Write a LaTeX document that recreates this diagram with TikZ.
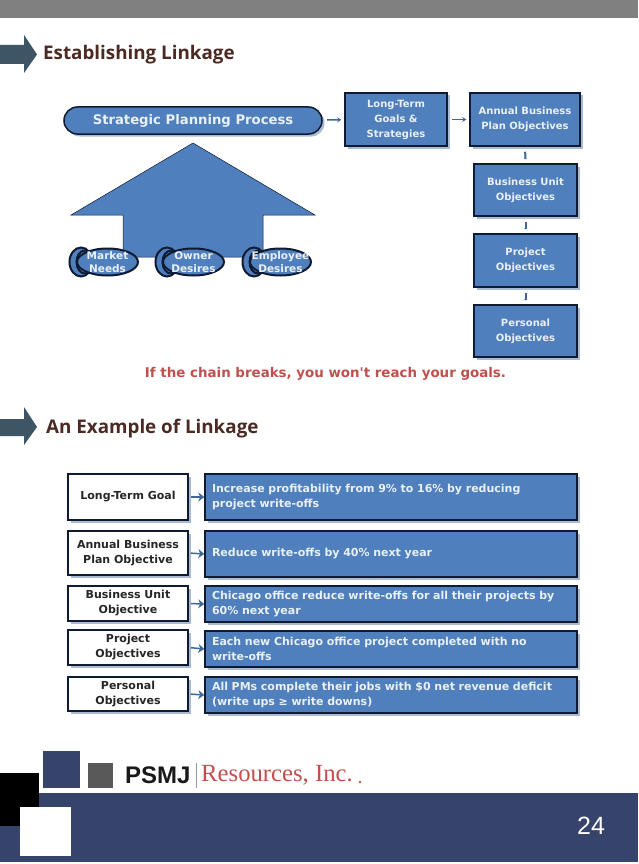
\documentclass[tikz,border=0pt]{standalone}
\usepackage{xcolor}
\usepackage{fontspec}
\usetikzlibrary{arrows.meta,shapes.geometric,shadows}
\newfontfamily\boxfont{DejaVu Sans}
\newfontfamily\titlefont{Open Sans}
\newfontfamily\logofont{Liberation Sans}
\newfontfamily\resfont{Liberation Serif}
\definecolor{boxblue}{HTML}{4F7FBC}
\definecolor{boxline}{HTML}{0E1B33}
\definecolor{linkblue}{HTML}{3E6798}
\definecolor{navy}{HTML}{36446C}
\definecolor{slate}{HTML}{3E5566}
\definecolor{titlebrown}{HTML}{4A2A22}
\definecolor{chainred}{HTML}{C0504D}
\definecolor{shadowblue}{HTML}{A9BAD2}
\definecolor{boxtext}{HTML}{EAF0F8}
\tikzset{
  bluebox/.style={draw=boxline,line width=1.5pt,fill=boxblue,text=boxtext,align=center,
    font=\boxfont\bfseries\fontsize{10}{15}\selectfont,inner sep=0pt,
    drop shadow={shadow xshift=2.5pt,shadow yshift=-2.5pt,fill=shadowblue,opacity=1}},
  namebox/.style={bluebox,fill=white,text=black!85,minimum width=120,
    font=\boxfont\bfseries\fontsize{11}{15}\selectfont},
  linebox/.style={bluebox,minimum width=372,text width=358,align=left,
    font=\boxfont\bfseries\fontsize{11}{15}\selectfont},
  podfront/.style={ellipse,draw=boxline,line width=2pt,fill=boxblue,minimum width=61,minimum height=27,inner sep=0pt},
  podback/.style={ellipse,draw=boxline,line width=2pt,fill=boxblue,minimum width=23,minimum height=29,inner sep=0pt},
  podtext/.style={text=boxtext,align=center,font=\boxfont\bfseries\fontsize{10.5}{13}\selectfont},
  linkto/.style={-{Stealth[length=4pt,width=5pt]},linkblue,line width=1.5pt,shorten <=4pt,shorten >=3pt},
  linkdown/.style={-{Stealth[length=1pt,width=3pt]},linkblue,line width=2pt,shorten <=5pt,shorten >=4pt},
  heading/.style={anchor=west,text=titlebrown,font=\titlefont\bfseries\fontsize{18.8}{20}\selectfont,inner sep=0pt}
}
\begin{document}
\begin{tikzpicture}[x=1pt,y=-1pt,=>stealth]
\useasboundingbox (0,0) rectangle (638,864);
\fill[white] (0,0) rectangle (638,864);
\fill[black!50] (0,0) rectangle (638,18);
% headings
\fill[slate] (0,45)--(24,45)--(24,35)--(37,54.5)--(24,73)--(24,64)--(0,64)--cycle;
\node[heading] (establish) at (43,55) {Establishing Linkage};
\fill[slate] (0,419)--(24,419)--(24,407)--(37,427)--(24,445)--(24,436)--(0,436)--cycle;
\node[heading] (example) at (46,429) {An Example of Linkage};
% upper chart
\node[bluebox,rounded corners=13.5,minimum width=258,minimum height=27,fill=boxblue,
  font=\boxfont\bfseries\fontsize{13.2}{14}\selectfont] (process) at (193,120.5) {Strategic Planning Process};
\draw[boxline,line width=0.5pt,fill=boxblue] (193,143)--(315,215)--(263,215)--(263,257)--(123,257)--(123,215)--(71,215)--cycle;
\foreach \px/\pname/\ptext in {0/market/Market\\Needs,86/owner/Owner\\Desires,173/employee/Employee\\Desires}{
  \node[podback] (\pname back) at (81+\px,262) {};
  \node[podback,minimum width=17,minimum height=23] (\pname mid) at (85+\px,262) {};
  \node[podfront] (\pname) at (107.5+\px,262) {};
  \node[podtext] at (\pname) {\ptext};
}
\node[bluebox,minimum width=102,minimum height=53] (goals) at (396,119.5) {Long-Term\\Goals \&\\Strategies};
\node[bluebox,minimum width=110,minimum height=53] (annual) at (525,119.5) {Annual Business\\Plan Objectives};
\node[bluebox,minimum width=103,minimum height=52] (unit) at (525.5,190) {Business Unit\\Objectives};
\node[bluebox,minimum width=103,minimum height=53] (project) at (525.5,260.5) {Project\\Objectives};
\node[bluebox,minimum width=103,minimum height=52] (personal) at (525.5,331) {Personal\\Objectives};
\draw[linkto] (process)--(goals);
\draw[linkto] (goals)--(annual);
\draw[linkdown] (annual)--(unit);
\draw[linkdown] (unit)--(project);
\draw[linkdown] (project)--(personal);
\node[text=chainred,inner sep=0pt,font=\boxfont\bfseries\fontsize{13.4}{14}\selectfont] (chain) at (325.5,373.5) {If the chain breaks, you won't reach your goals.};
% lower chart
\node[namebox,minimum height=46] (goalname) at (128,497) {Long-Term Goal};
\node[namebox,minimum height=44] (annualname) at (128,553) {Annual Business\\Plan Objective};
\node[namebox,minimum height=35] (unitname) at (128,603.5) {Business Unit\\Objective};
\node[namebox,minimum height=35] (projectname) at (128,647.5) {Project\\Objectives};
\node[namebox,minimum height=34] (personalname) at (128,694) {Personal\\Objectives};
\node[linebox,minimum height=46] (goalline) at (391,497) {Increase profitability from 9\% to 16\% by reducing\\project write-offs};
\node[linebox,minimum height=46] (annualline) at (391,554) {Reduce write-offs by 40\% next year};
\node[linebox,minimum height=36] (unitline) at (391,604) {Chicago office reduce write-offs for all their projects by\\60\% next year};
\node[linebox,minimum height=36] (projectline) at (391,649) {Each new Chicago office project completed with no\\write-offs};
\node[linebox,minimum height=36] (personalline) at (391,695) {All PMs complete their jobs with \$0 net revenue deficit\\(write ups ≥ write downs)};
\foreach \rowname in {goal,annual,unit,project,personal}{
  \draw[-{Stealth[length=6pt,width=9pt]},linkblue,line width=1.5pt,shorten <=2pt] (\rowname name.east)--(\rowname line.west);
}
% footer
\fill[navy] (0,793) rectangle (638,862);
\fill[black] (0,773) rectangle (39,826);
\fill[white] (20,807) rectangle (71,856);
\fill[navy] (43,751) rectangle (80,788);
\fill[black!65] (88,763) rectangle (113,788);
\node[anchor=west,inner sep=0pt,text=black!90,font=\logofont\bfseries\fontsize{24}{26}\selectfont] (psmj) at (125,775) {PSMJ};
\draw[black!40,line width=0.6pt] (196,763)--(196,788);
\node[anchor=west,inner sep=0pt,text=chainred,font=\resfont\fontsize{24.7}{26}\selectfont] (resources) at (201,775) {Resources, Inc.};
\fill[chainred] (360,782) circle[radius=1.3];
\node[text=white,inner sep=0pt,font=\logofont\fontsize{25}{26}\selectfont] (pageno) at (591,826) {24};
\end{tikzpicture}
\end{document}
